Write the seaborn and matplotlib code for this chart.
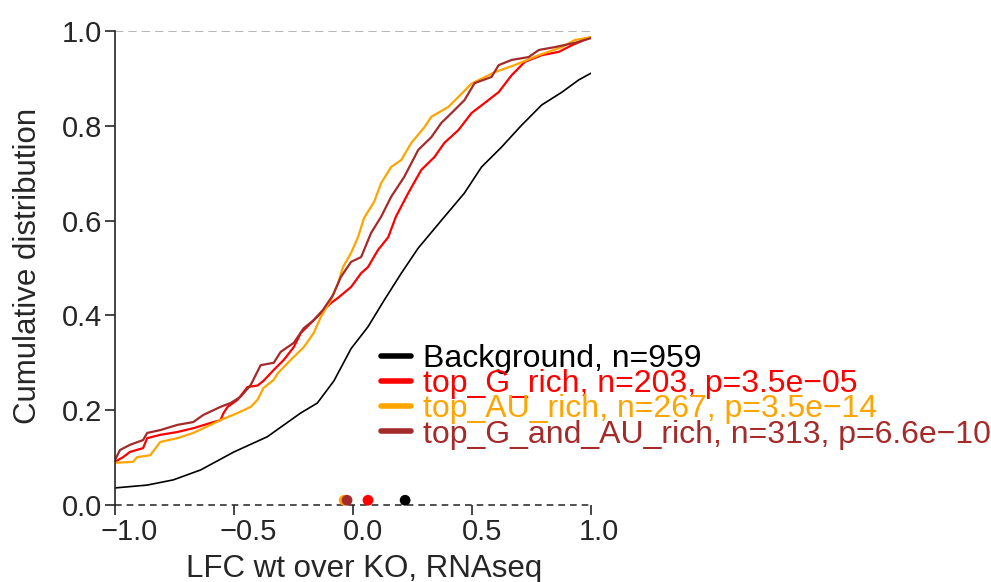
import numpy as np
import pandas as pd
import matplotlib
matplotlib.use("Agg")
import matplotlib.pyplot as plt
import matplotlib.transforms as mtransforms
from matplotlib.lines import Line2D
import seaborn as sns

# DATOS (ECDF de LFC por grupo)
bg_x = [-1.0, -0.865, -0.755, -0.64, -0.50, -0.36, -0.22, -0.15, -0.08, -0.008, 0.063, 0.131,
        0.203, 0.274, 0.384, 0.468, 0.540, 0.624, 0.706, 0.793, 0.878, 0.949, 1.0]
bg_y = [0.036, 0.042, 0.053, 0.074, 0.112, 0.144, 0.194, 0.215, 0.262, 0.330, 0.376, 0.432,
        0.489, 0.542, 0.608, 0.658, 0.713, 0.755, 0.800, 0.844, 0.871, 0.897, 0.911]

g_x = [-1.0, -0.966, -0.937, -0.882, -0.865, -0.81, -0.738, -0.671, -0.599, -0.557, -0.544,
       -0.527, -0.485, -0.443, -0.401, -0.376, -0.333, -0.291, -0.249, -0.219, -0.177, -0.135,
       -0.093, -0.063, -0.008, 0.034, 0.063, 0.105, 0.148, 0.180, 0.232, 0.287, 0.342, 0.384,
       0.443, 0.498, 0.553, 0.612, 0.667, 0.722, 0.793, 0.865, 0.920, 1.0]
g_y = [0.091, 0.101, 0.112, 0.120, 0.141, 0.148, 0.154, 0.162, 0.173, 0.179, 0.194,
       0.207, 0.222, 0.249, 0.252, 0.262, 0.285, 0.306, 0.333, 0.363, 0.384, 0.405,
       0.426, 0.437, 0.460, 0.489, 0.502, 0.538, 0.565, 0.608, 0.658, 0.707, 0.734, 0.764,
       0.791, 0.827, 0.848, 0.871, 0.907, 0.935, 0.949, 0.956, 0.970, 0.987]

au_x = [-1.0, -0.924, -0.907, -0.852, -0.81, -0.738, -0.671, -0.599, -0.557, -0.485,
        -0.430, -0.401, -0.376, -0.333, -0.316, -0.262, -0.207, -0.165, -0.135, -0.093,
        -0.063, -0.042, -0.008, 0.021, 0.046, 0.089, 0.118, 0.160, 0.203, 0.245,
        0.300, 0.329, 0.401, 0.443, 0.498, 0.595, 0.679, 0.781, 0.878, 0.932, 1.0]
au_y = [0.089, 0.091, 0.101, 0.105, 0.133, 0.141, 0.152, 0.169, 0.179, 0.194,
        0.207, 0.222, 0.247, 0.264, 0.278, 0.306, 0.333, 0.363, 0.397, 0.432,
        0.468, 0.502, 0.532, 0.565, 0.605, 0.640, 0.679, 0.713, 0.728, 0.764,
        0.797, 0.819, 0.840, 0.861, 0.889, 0.913, 0.928, 0.949, 0.966, 0.981, 0.987]

gau_x = [-1.0, -0.979, -0.937, -0.882, -0.865, -0.81, -0.738, -0.671, -0.629, -0.557,
         -0.515, -0.473, -0.430, -0.388, -0.333, -0.304, -0.249, -0.207, -0.165, -0.127,
         -0.084, -0.051, -0.008, 0.034, 0.076, 0.118, 0.160, 0.215, 0.274, 0.329,
         0.371, 0.414, 0.468, 0.511, 0.582, 0.612, 0.667, 0.738, 0.781, 0.848,
         0.932, 1.0]
gau_y = [0.095, 0.116, 0.127, 0.137, 0.152, 0.158, 0.169, 0.175, 0.190, 0.207,
         0.215, 0.228, 0.253, 0.295, 0.300, 0.323, 0.342, 0.373, 0.390, 0.411,
         0.443, 0.481, 0.513, 0.523, 0.574, 0.608, 0.650, 0.692, 0.749, 0.776,
         0.806, 0.827, 0.854, 0.890, 0.903, 0.928, 0.939, 0.945, 0.960, 0.966,
         0.975, 0.985]

group_names = ["Background", "top_G_rich", "top_AU_rich", "top_G_and_AU_rich"]
group_n = [959, 203, 267, 313]
group_p = [None, "3.5e\u221205", "3.5e\u221214", "6.6e\u221210"]
group_medians = [0.219, 0.063, -0.037, -0.025]

x_ticks = [-1.0, -0.5, 0.0, 0.5, 1.0]
x_ticklabels = ["\u22121.0", "\u22120.5", "0.0", "0.5", "1.0"]
y_ticks = [0.0, 0.2, 0.4, 0.6, 0.8, 1.0]
y_ticklabels = ["0.0", "0.2", "0.4", "0.6", "0.8", "1.0"]

# ESTILO
COLORS = ["black", "#FF0000", "#FFA500", "#A52A2A"]
LINE_WIDTHS = [1.2, 1.6, 1.6, 1.6]
TICK_SIZE = 21
LABEL_SIZE = 22.5
LEGEND_SIZE = 23
DOT_Y = 0.01

sns.set_style("ticks")
plt.rcParams['font.family'] = ['Liberation Sans', 'DejaVu Sans']

curves = [(bg_x, bg_y), (g_x, g_y), (au_x, au_y), (gau_x, gau_y)]
df = pd.concat([pd.DataFrame({"lfc": cx, "cdf": cy, "group": name})
                for (cx, cy), name in zip(curves, group_names)], ignore_index=True)
df_med = pd.DataFrame({"lfc": group_medians, "group": group_names})

fig = plt.figure(figsize=(9.91, 5.82), dpi=100)
ax = fig.add_axes([115 / 991, 1 - 505 / 582, 476 / 991, 474 / 582])

for name, color, lw in zip(group_names, COLORS, LINE_WIDTHS):
    sns.lineplot(data=df[df["group"] == name], x="lfc", y="cdf", color=color, lw=lw,
                 sort=False, estimator=None, ax=ax, legend=False)

ax.axhline(1.0, ls=(0, (5, 3)), color="#AAAAAA", lw=1.2, zorder=0)
ax.axhline(0.0, ls=(0, (4, 3)), color="#333333", lw=1.2, zorder=0, clip_on=False)

sns.scatterplot(data=df_med, x="lfc", y=DOT_Y, hue="group", palette=dict(zip(group_names, COLORS)),
                s=60, edgecolor="none", legend=False, ax=ax, clip_on=False, zorder=5)

ax.set_xlim(-1, 1)
ax.set_ylim(0, 1)
ax.set_xticks(x_ticks)
ax.set_yticks(y_ticks)
ax.set_xticklabels(x_ticklabels)
ax.set_yticklabels(y_ticklabels)
ax.tick_params(axis="both", labelsize=TICK_SIZE, length=7, width=1.2, direction="out", pad=2)
for spine in ["top", "right", "bottom"]:
    ax.spines[spine].set_visible(False)
ax.spines["left"].set_linewidth(1.2)

# las etiquetas del eje x estan algo desplazadas a la derecha en el original
for lab, txt in zip(ax.get_xticklabels(), x_ticklabels):
    dx = 14 if txt.startswith("\u2212") else (8 if txt == "1.0" else 10)
    lab.set_transform(lab.get_transform() + mtransforms.ScaledTranslation(dx / 100, 0, fig.dpi_scale_trans))

ax.set_xlabel("LFC wt over KO, RNAseq", fontsize=LABEL_SIZE)
ax.set_ylabel("Cumulative distribution", fontsize=LABEL_SIZE)
ax.xaxis.set_label_coords(0.523, -0.103)
ax.yaxis.set_label_coords(-0.152, 0.504)

labels = []
for name, n, p in zip(group_names, group_n, group_p):
    lab = f"{name}, n={n}"
    if p is not None:
        lab += f", p={p}"
    labels.append(lab)
handles = [Line2D([0], [0], color=c, lw=4, solid_capstyle="round") for c in COLORS]
fig.legend(handles, labels, loc="upper left", bbox_to_anchor=(381 / 991, 1 - 344 / 582),
           frameon=False, fontsize=LEGEND_SIZE, labelcolor=COLORS, handlelength=0.95,
           handletextpad=0.38, labelspacing=-0.15, borderpad=0, borderaxespad=0)

fig.savefig("out.png", dpi=100)
plt.close(fig)
